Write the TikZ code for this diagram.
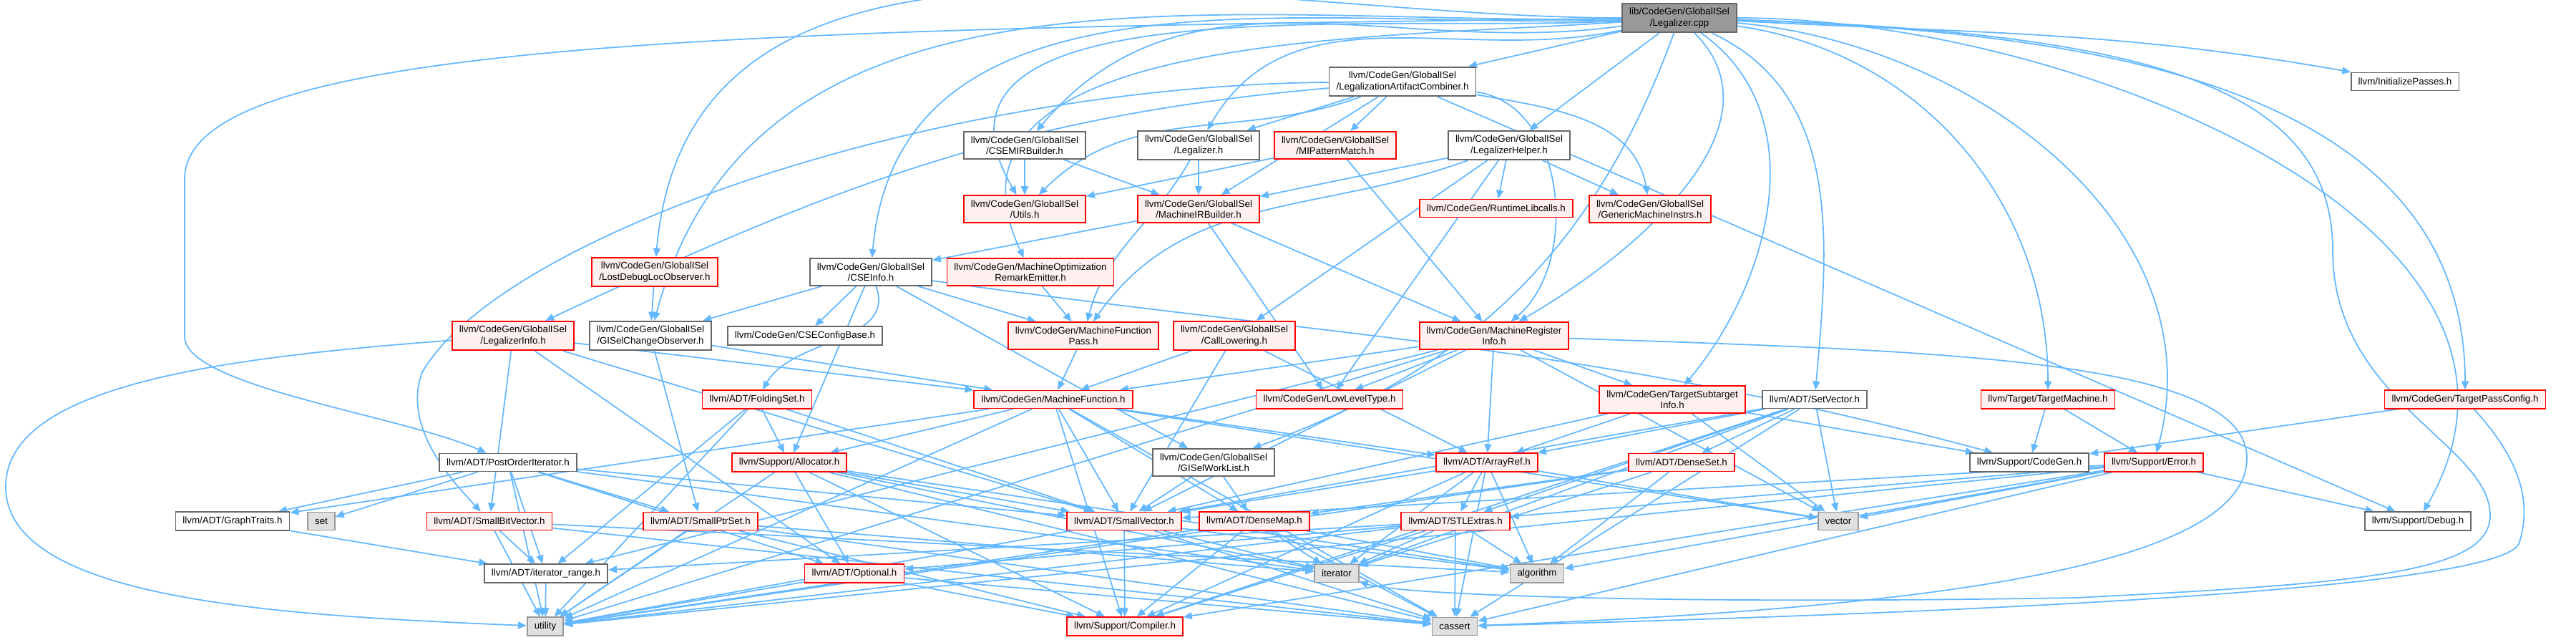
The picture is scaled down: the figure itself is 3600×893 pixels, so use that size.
\documentclass[tikz,border=0pt]{standalone}
\usepackage{fontspec}
\setmainfont{Liberation Sans}
\usetikzlibrary{arrows.meta}
\definecolor{edgeblue}{HTML}{63B8FF}
\definecolor{nodegray}{HTML}{666666}
\definecolor{sysgray}{HTML}{999999}
\definecolor{sysfill}{HTML}{E0E0E0}
\definecolor{truncfill}{HTML}{FFF0F0}
\definecolor{mainfill}{HTML}{999999}
\pgfdeclarelayer{bg}
\pgfsetlayers{bg,main}
\begin{document}
\begin{tikzpicture}[x=0.01cm, y=-0.01cm,
    box/.style={draw, line width=0.5pt, align=center, inner xsep=0.1cm,
      inner ysep=0.065cm, minimum height=0.25cm,
      font=\fontsize{3.8}{4.3}\selectfont},
    hdr/.style={box, draw=nodegray, fill=white},
    trunc/.style={box, draw=red, fill=truncfill},
    sys/.style={box, draw=sysgray, fill=sysfill},
    srcf/.style={box, draw=nodegray, fill=mainfill},
    dep/.style={draw=edgeblue, line width=0.5pt,
      -{Triangle[length=0.12cm,width=0.1cm]}}]
  \useasboundingbox (0,0) rectangle (3600,893);
  % headers
  \node[srcf] (main) at (2347,25) {lib/CodeGen/GlobalISel\\/Legalizer.cpp};
  \node[hdr] (lac) at (1960,114) {llvm/CodeGen/GlobalISel\\/LegalizationArtifactCombiner.h};
  \node[hdr] (initp) at (3361,114) {llvm/InitializePasses.h};
  \node[hdr] (csemir) at (1432,203) {llvm/CodeGen/GlobalISel\\/CSEMIRBuilder.h};
  \node[hdr] (legh) at (1675,203) {llvm/CodeGen/GlobalISel\\/Legalizer.h};
  \node[trunc] (mipm) at (1866,203) {llvm/CodeGen/GlobalISel\\/MIPatternMatch.h};
  \node[hdr] (lhelp) at (2109,203) {llvm/CodeGen/GlobalISel\\/LegalizerHelper.h};
  \node[trunc] (utils) at (1432,292) {llvm/CodeGen/GlobalISel\\/Utils.h};
  \node[trunc] (mirb) at (1675,292) {llvm/CodeGen/GlobalISel\\/MachineIRBuilder.h};
  \node[trunc] (rtlib) at (2091,291) {llvm/CodeGen/RuntimeLibcalls.h};
  \node[trunc] (gmi) at (2306,292) {llvm/CodeGen/GlobalISel\\/GenericMachineInstrs.h};
  \node[trunc] (lostdbg) at (915,380) {llvm/CodeGen/GlobalISel\\/LostDebugLocObserver.h};
  \node[hdr] (cseinfo) at (1217,380) {llvm/CodeGen/GlobalISel\\/CSEInfo.h};
  \node[trunc] (more) at (1440,380) {llvm/CodeGen/MachineOptimization\\RemarkEmitter.h};
  \node[trunc] (lginfo) at (717,469) {llvm/CodeGen/GlobalISel\\/LegalizerInfo.h};
  \node[hdr] (chobs) at (909,469) {llvm/CodeGen/GlobalISel\\/GISelChangeObserver.h};
  \node[hdr] (cseconf) at (1125,469) {llvm/CodeGen/CSEConfigBase.h};
  \node[trunc] (mfpass) at (1514,469) {llvm/CodeGen/MachineFunction\\Pass.h};
  \node[trunc] (calllow) at (1725,469) {llvm/CodeGen/GlobalISel\\/CallLowering.h};
  \node[trunc] (mri) at (2088,469) {llvm/CodeGen/MachineRegister\\Info.h};
  \node[trunc] (foldset) at (1058,558) {llvm/ADT/FoldingSet.h};
  \node[trunc] (mfunc) at (1472,558) {llvm/CodeGen/MachineFunction.h};
  \node[trunc] (llt) at (1858,558) {llvm/CodeGen/LowLevelType.h};
  \node[trunc] (tsi) at (2337,558) {llvm/CodeGen/TargetSubtarget\\Info.h};
  \node[hdr] (setvec) at (2536,558) {llvm/ADT/SetVector.h};
  \node[trunc] (tm) at (2862,558) {llvm/Target/TargetMachine.h};
  \node[trunc] (tpc) at (3445,558) {llvm/CodeGen/TargetPassConfig.h};
  \node[hdr] (poi) at (710,646) {llvm/ADT/PostOrderIterator.h};
  \node[trunc] (alloc) at (1103,646) {llvm/Support/Allocator.h};
  \node[hdr] (gwl) at (1696,646) {llvm/CodeGen/GlobalISel\\/GISelWorkList.h};
  \node[trunc] (aref) at (2078,646) {llvm/ADT/ArrayRef.h};
  \node[trunc] (dset) at (2350,646) {llvm/ADT/DenseSet.h};
  \node[hdr] (cgen) at (2836,646) {llvm/Support/CodeGen.h};
  \node[trunc] (err) at (3010,646) {llvm/Support/Error.h};
  \node[hdr] (gtraits) at (325,728) {llvm/ADT/GraphTraits.h};
  \node[sys] (stdset) at (449,728) {set};
  \node[trunc] (sbv) at (684,728) {llvm/ADT/SmallBitVector.h};
  \node[trunc] (sps) at (979,728) {llvm/ADT/SmallPtrSet.h};
  \node[trunc] (svec) at (1571,728) {llvm/ADT/SmallVector.h};
  \node[trunc] (dmap) at (1753,728) {llvm/ADT/DenseMap.h};
  \node[trunc] (stlx) at (2034,728) {llvm/ADT/STLExtras.h};
  \node[sys] (stdvector) at (2569,728) {vector};
  \node[hdr] (debug) at (3379,728) {llvm/Support/Debug.h};
  \node[hdr] (itrange) at (763,801) {llvm/ADT/iterator\_range.h};
  \node[trunc] (optional) at (1194,801) {llvm/ADT/Optional.h};
  \node[sys] (stditer) at (1868,801) {iterator};
  \node[sys] (stdalgo) at (2148,801) {algorithm};
  \node[sys] (stdutil) at (762,875) {utility};
  \node[trunc] (compiler) at (1572,875) {llvm/Support/Compiler.h};
  \node[sys] (stdassert) at (2033,875) {cassert};
  \begin{pgfonlayer}{bg}
  % includes of the source file
  \draw[dep] (main) -- (lac);
  \draw[dep] (main) -- (lhelp);
  \draw[dep] (main) to[out=192,in=60] (legh);
  \draw[dep] (main) to[out=188,in=50] (csemir);
  \draw[dep] (main) to[out=183,in=120] (utils);
  \draw[dep] (main) to[out=182,in=85] (cseinfo);
  \draw[dep] (main) to[out=184,in=115] (more);
  \draw[dep] (main) to[out=180,in=85] (lostdbg);
  \draw[dep] (main) to[out=181,in=75] (chobs);
  \draw[dep] (main) .. controls (1000,40) and (258,60) .. (258,250)
    -- (258,470) .. controls (258,540) and (560,580) .. (poi);
  \draw[dep] (main) to[out=-110,in=20] (gwl);
  \draw[dep] (main) to[out=-45,in=30] (mri);
  \draw[dep] (main) to[out=-35,in=50] (tsi);
  \draw[dep] (main) to[out=-25,in=85] (setvec);
  \draw[dep] (main) to[out=-8,in=90] (tm);
  \draw[dep] (main) to[out=-5,in=75] (err);
  \draw[dep] (main) to[out=-3,in=170] (initp);
  \draw[dep] (main) to[out=-2,in=90] (tpc);
  \draw[dep] (main) to[out=0,in=60] (debug);
  \draw[dep] (main) .. controls (3000,45) and (3260,120) .. (3260,350)
    .. controls (3260,560) and (3480,620) .. (3480,720)
    .. controls (3480,800) and (3300,815) .. (2900,835)
    .. controls (2300,845) and (1950,830) .. (stditer);
  % LegalizationArtifactCombiner.h
  \draw[dep] (lac) -- (legh);
  \draw[dep] (lac) -- (mipm);
  \draw[dep] (lac) to[out=200,in=45] (utils);
  \draw[dep] (lac) -- (mirb);
  \draw[dep] (lac) to[out=-10,in=100] (gmi);
  \draw[dep] (lac) to[out=-8,in=40] (mri);
  \draw[dep] (lac) to[out=185,in=25] (lginfo);
  \draw[dep] (lac) .. controls (1300,120) and (700,330) .. (590,520)
    .. controls (560,600) and (640,680) .. (sbv);
  \draw[dep] (lac) -- (debug);
  % second rank
  \draw[dep] (csemir) -- (utils);
  \draw[dep] (csemir) -- (mirb);
  \draw[dep] (legh) -- (mirb);
  \draw[dep] (legh) to[out=-120,in=75] (mfpass);
  \draw[dep] (mipm) -- (utils);
  \draw[dep] (mipm) -- (mri);
  \draw[dep] (lhelp) -- (rtlib);
  \draw[dep] (lhelp) -- (gmi);
  \draw[dep] (lhelp) -- (mirb);
  \draw[dep] (lhelp) -- (calllow);
  \draw[dep] (lhelp) to[out=200,in=55] (mfpass);
  \draw[dep] (lhelp) -- (llt);
  \draw[dep] (mirb) -- (cseinfo);
  \draw[dep] (mirb) -- (mri);
  \draw[dep] (mirb) -- (llt);
  % CSEInfo.h and observers
  \draw[dep] (cseinfo) -- (chobs);
  \draw[dep] (cseinfo) -- (cseconf);
  \draw[dep] (cseinfo) -- (mfpass);
  \draw[dep] (cseinfo) to[out=-70,in=60] (foldset);
  \draw[dep] (cseinfo) -- (gwl);
  \draw[dep] (cseinfo) -- (alloc);
  \draw[dep] (cseinfo) to[out=-8,in=165] (cgen);
  \draw[dep] (lostdbg) -- (chobs);
  \draw[dep] (more) -- (mfpass);
  \draw[dep] (lginfo) -- (sbv);
  \draw[dep] (lginfo) -- (mfunc);
  \draw[dep] (lginfo) -- (svec);
  \draw[dep] (lginfo) -- (optional);
  \draw[dep] (lginfo) .. controls (300,500) and (8,540) .. (8,680)
    .. controls (8,840) and (400,860) .. (stdutil);
  \draw[dep] (chobs) -- (sps);
  \draw[dep] (chobs) -- (mfunc);
  \draw[dep] (mfpass) -- (mfunc);
  \draw[dep] (calllow) -- (mfunc);
  \draw[dep] (calllow) -- (aref);
  \draw[dep] (calllow) -- (svec);
  % MachineRegisterInfo.h
  \draw[dep] (mri) -- (mfunc);
  \draw[dep] (mri) -- (llt);
  \draw[dep] (mri) -- (tsi);
  \draw[dep] (mri) -- (aref);
  \draw[dep] (mri) -- (svec);
  \draw[dep] (mri) -- (itrange);
  \draw[dep] (mri) -- (stdvector);
  \draw[dep] (mri) -- (stdutil);
  \draw[dep] (mri) .. controls (2700,490) and (3140,500) .. (3140,640)
    .. controls (3140,790) and (2700,850) .. (stdassert);
  % third rank
  \draw[dep] (foldset) -- (alloc);
  \draw[dep] (foldset) -- (svec);
  \draw[dep] (foldset) -- (itrange);
  \draw[dep] (foldset) -- (stdutil);
  \draw[dep] (mfunc) -- (alloc);
  \draw[dep] (mfunc) -- (aref);
  \draw[dep] (mfunc) -- (dmap);
  \draw[dep] (mfunc) -- (gtraits);
  \draw[dep] (mfunc) -- (svec);
  \draw[dep] (mfunc) -- (compiler);
  \draw[dep] (mfunc) -- (stdutil);
  \draw[dep] (mfunc) -- (stdassert);
  \draw[dep] (mfunc) -- (stdvector);
  \draw[dep] (tsi) -- (aref);
  \draw[dep] (tsi) -- (svec);
  \draw[dep] (tsi) -- (cgen);
  \draw[dep] (tsi) -- (stdvector);
  \draw[dep] (setvec) -- (aref);
  \draw[dep] (setvec) -- (dset);
  \draw[dep] (setvec) -- (stlx);
  \draw[dep] (setvec) -- (svec);
  \draw[dep] (setvec) -- (compiler);
  \draw[dep] (setvec) -- (stdassert);
  \draw[dep] (setvec) -- (stditer);
  \draw[dep] (setvec) -- (stdvector);
  \draw[dep] (tm) -- (cgen);
  \draw[dep] (tm) -- (err);
  \draw[dep] (tpc) -- (cgen);
  \draw[dep] (tpc) .. controls (3520,640) and (3540,700) .. (3520,760)
    .. controls (3480,830) and (2600,860) .. (stdassert);
  % ADT and Support
  \draw[dep] (poi) -- (gtraits);
  \draw[dep] (poi) -- (stdset);
  \draw[dep] (poi) -- (sps);
  \draw[dep] (poi) -- (svec);
  \draw[dep] (poi) -- (itrange);
  \draw[dep] (poi) -- (stdutil);
  \draw[dep] (poi) -- (optional);
  \draw[dep] (poi) -- (stditer);
  \draw[dep] (alloc) -- (optional);
  \draw[dep] (alloc) -- (svec);
  \draw[dep] (alloc) -- (compiler);
  \draw[dep] (alloc) -- (stdalgo);
  \draw[dep] (alloc) -- (stdassert);
  \draw[dep] (alloc) -- (stditer);
  \draw[dep] (alloc) -- (stdutil);
  \draw[dep] (gwl) -- (svec);
  \draw[dep] (gwl) -- (dmap);
  \draw[dep] (aref) -- (svec);
  \draw[dep] (aref) -- (stlx);
  \draw[dep] (aref) -- (compiler);
  \draw[dep] (aref) -- (stditer);
  \draw[dep] (aref) -- (stdalgo);
  \draw[dep] (aref) -- (stdassert);
  \draw[dep] (aref) -- (stdvector);
  \draw[dep] (dset) -- (dmap);
  \draw[dep] (dset) -- (stdalgo);
  \draw[dep] (dset) -- (stditer);
  \draw[dep] (dset) -- (stdutil);
  \draw[dep] (err) -- (debug);
  \draw[dep] (err) -- (stlx);
  \draw[dep] (err) -- (svec);
  \draw[dep] (err) -- (compiler);
  \draw[dep] (err) -- (stdalgo);
  \draw[dep] (err) -- (stdassert);
  \draw[dep] (err) -- (stdutil);
  \draw[dep] (err) -- (stdvector);
  \draw[dep] (gtraits) -- (itrange);
  \draw[dep] (sbv) -- (itrange);
  \draw[dep] (sbv) -- (stdutil);
  \draw[dep] (sbv) -- (stdalgo);
  \draw[dep] (sbv) -- (stdassert);
  \draw[dep] (sps) -- (compiler);
  \draw[dep] (sps) -- (stdassert);
  \draw[dep] (sps) -- (stditer);
  \draw[dep] (sps) -- (stdutil);
  \draw[dep] (svec) -- (compiler);
  \draw[dep] (svec) -- (stdalgo);
  \draw[dep] (svec) -- (stdassert);
  \draw[dep] (svec) -- (stditer);
  \draw[dep] (svec) -- (stdutil);
  \draw[dep] (dmap) -- (compiler);
  \draw[dep] (dmap) -- (stdalgo);
  \draw[dep] (dmap) -- (stdassert);
  \draw[dep] (dmap) -- (stditer);
  \draw[dep] (dmap) -- (stdutil);
  \draw[dep] (stlx) -- (itrange);
  \draw[dep] (stlx) -- (optional);
  \draw[dep] (stlx) -- (compiler);
  \draw[dep] (stlx) -- (stditer);
  \draw[dep] (stlx) -- (stdalgo);
  \draw[dep] (stlx) -- (stdassert);
  \draw[dep] (stlx) -- (stdutil);
  \draw[dep] (itrange) -- (stdutil);
  \draw[dep] (optional) -- (compiler);
  \draw[dep] (optional) -- (stdassert);
  \draw[dep] (optional) -- (stdutil);
  \end{pgfonlayer}
\end{tikzpicture}
\end{document}
